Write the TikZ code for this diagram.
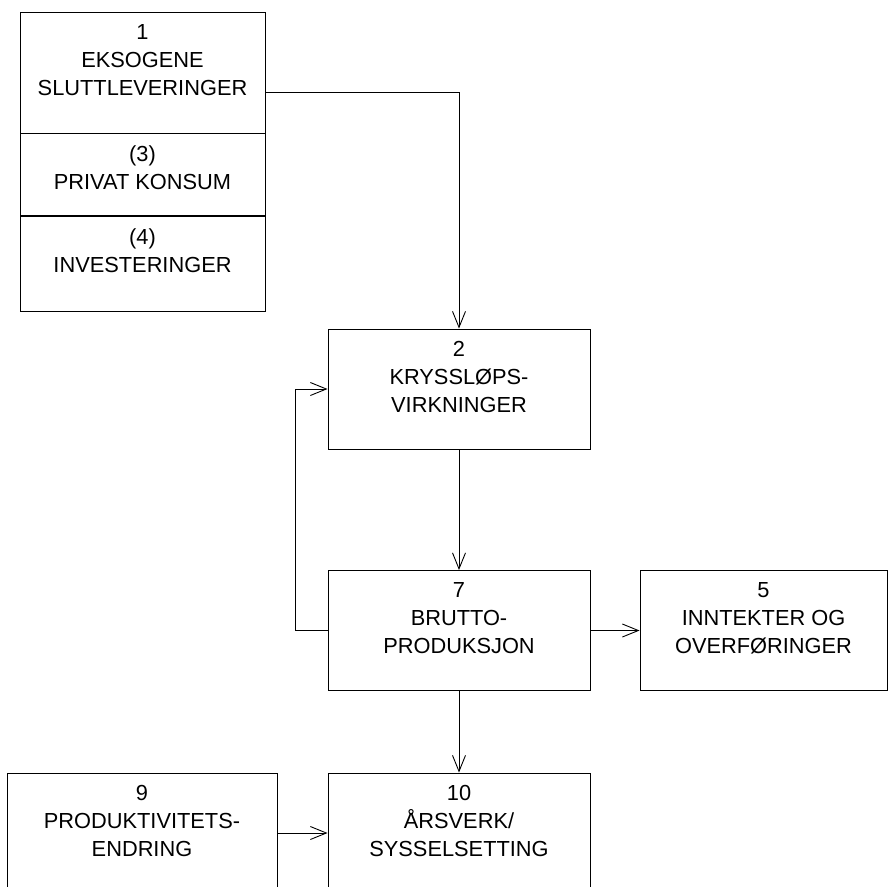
\documentclass[tikz,border=0pt]{standalone}
\usepackage{fontspec}
\setmainfont{Liberation Sans}
\usetikzlibrary{arrows.meta}

\begin{document}
\begin{tikzpicture}[x=1pt,y=-1pt,
    box/.style={draw,line width=0.9pt,inner sep=0},
    boxtext/.style={anchor=north,yshift=-12.5pt,inner sep=0,align=center,
      font=\fontsize{21.8}{28}\selectfont},
    arr/.style={line width=0.9pt,-{Straight Barb[length=16pt,width=13pt]}}]
    \pgfmathsetmacro{\boxwidth}{262}
    \pgfmathsetmacro{\boxheight}{120}
    \pgfmathsetmacro{\midx}{459}
    \pgfmathsetmacro{\stackwidth}{245}
    % \pgfmathsetmacro{\boxheight}{121}
    \useasboundingbox (0,0) rectangle (888,886);
    \node[box,minimum width=\stackwidth pt,minimum height=121pt,
      label={[boxtext]north:1\\EKSOGENE\\SLUTTLEVERINGER}] (eksogene) at (142.5,72.5) {};
    \node[box,minimum width=\stackwidth pt,minimum height=82pt,anchor=north,
      label={[boxtext]north:(3)\\PRIVAT KONSUM}] (konsum) at (eksogene.south) {};
    \node[box,minimum width=\stackwidth pt,minimum height=95pt,anchor=north,
      label={[boxtext]north:(4)\\INVESTERINGER}] (invest) at (konsum.south) {};
    \node[box,minimum width=\boxwidth pt,minimum height=\boxheight pt,
      label={[boxtext]north:2\\KRYSSLØPS-\\VIRKNINGER}] (kryss) at (\midx,389) {};
    \node[box,minimum width=\boxwidth pt,minimum height=\boxheight pt,
      label={[boxtext]north:7\\BRUTTO-\\PRODUKSJON}] (brutto) at (\midx,630.5) {};
    \node[box,minimum width=247pt,minimum height=\boxheight pt,
      label={[boxtext]north:5\\INNTEKTER OG\\OVERFØRINGER}] (inntekt) at (763.5,630.5) {};
    \node[box,minimum width=\boxwidth pt,minimum height=\boxheight pt,
      label={[boxtext]north:10\\ÅRSVERK/\\SYSSELSETTING}] (aarsverk) at (\midx,833) {};
    \node[box,minimum width=270pt,minimum height=\boxheight pt,
      label={[boxtext]north:9\\PRODUKTIVITETS-\\ENDRING}] (prod) at (142,833) {};
    \draw[arr] ([yshift=-19.5pt]eksogene.east) -| (kryss.north);
    \draw[arr] (kryss.south) -- (brutto.north);
    \draw[arr] (brutto.west) -- ++(-32,0) |- (kryss.west);
    \draw[arr] (brutto.east) -- (inntekt.west);
    \draw[arr] (brutto.south) -- (aarsverk.north);
    \draw[arr] (prod.east) -- (aarsverk.west);
\end{tikzpicture}
\end{document}
